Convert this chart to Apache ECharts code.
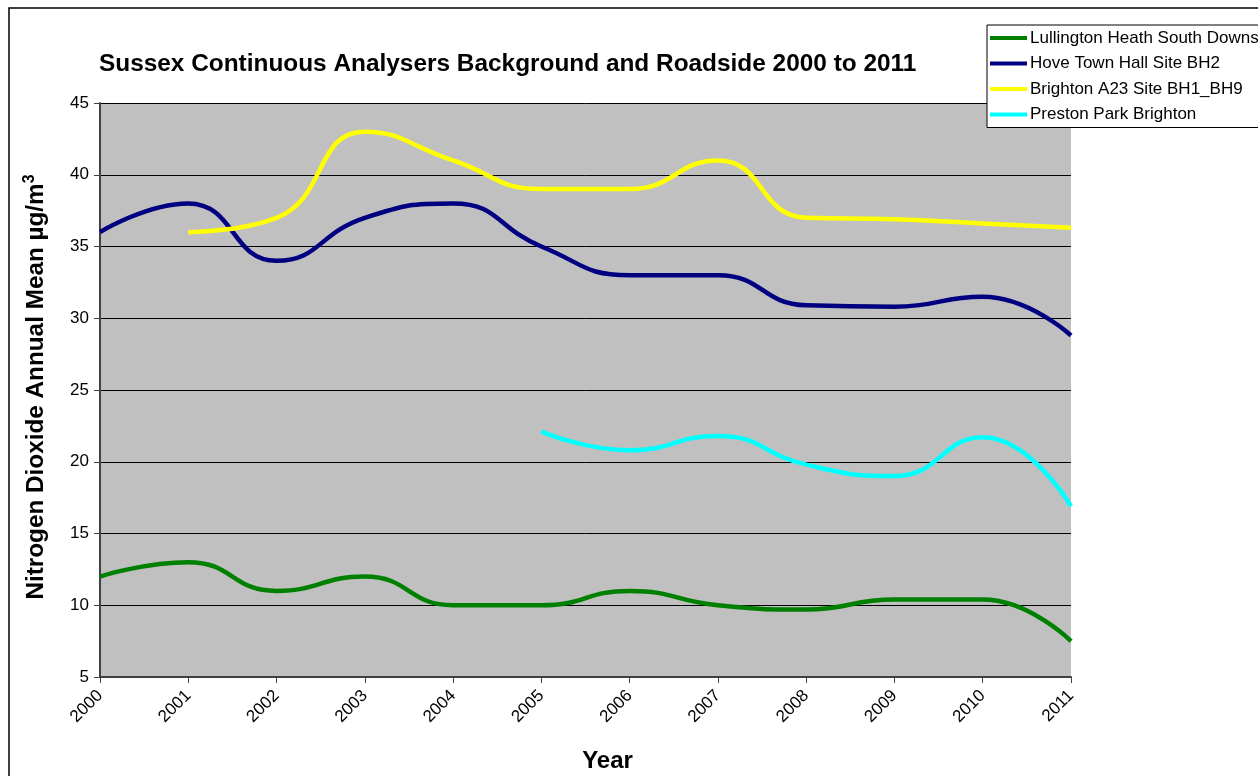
<!DOCTYPE html>
<html>
<head>
<meta charset="utf-8">
<script src="https://cdn.jsdelivr.net/npm/echarts@6/dist/echarts.min.js"></script>
<style>
  html, body { margin: 0; padding: 0; background: #fff; }
  #chart { width: 1258px; height: 776px; }
</style>
</head>
<body>
<div id="chart"></div>
<script>
// Annual mean NO2 at Sussex continuous analysers, 2000-2011
const years = ['2000','2001','2002','2003','2004','2005','2006','2007','2008','2009','2010','2011'];
const lullington = [12, 13, 11, 12, 10, 10, 11, 10, 9.7, 10.4, 10.4, 7.5];
const hove = [36, 38, 34, 37, 38, 35, 33, 33, 30.9, 30.8, 31.5, 28.8];
const brightonA23 = [null, 36, 37, 43, 41, 39, 39, 41, 37, 36.9, 36.6, 36.3];
const prestonPark = [null, null, null, null, null, 22.1, 20.8, 21.8, 19.8, 19.0, 21.7, 16.9];
const seriesNames = ['Lullington Heath South Downs', 'Hove Town Hall Site BH2', 'Brighton A23 Site BH1_BH9', 'Preston Park Brighton'];
const seriesColors = ['#008000', '#000080', '#ffff00', '#00ffff'];
const seriesData = [lullington, hove, brightonA23, prestonPark];

const chart = echarts.init(document.getElementById('chart'));
const font = 'Liberation Sans, Arial, sans-serif';

chart.setOption({
  animation: false,
  textStyle: { fontFamily: font },
  title: {
    text: 'Sussex Continuous Analysers Background and Roadside 2000 to 2011',
    left: 94, top: 47,
    textStyle: { fontSize: 24.4, fontWeight: 'bold', color: '#000', fontFamily: font }
  },
  legend: {
    orient: 'vertical',
    left: 987, top: 25,
    width: 320,
    backgroundColor: '#fff',
    borderColor: '#000', borderWidth: 1,
    padding: [3, 60, 3, 3],
    itemGap: 5.5,
    itemWidth: 37, itemHeight: 4,
    icon: 'rect',
    textStyle: { fontSize: 17, lineHeight: 20, color: '#000', padding: [0, 0, 0, -2], fontFamily: font },
    data: seriesNames
  },
  graphic: [{
    type: 'rect', silent: true, z: -1,
    shape: { x: 9, y: 8, width: 1400, height: 900 },
    style: { fill: 'none', stroke: '#000', lineWidth: 1.5 }
  }],
  grid: {
    left: 100, top: 103, width: 971, height: 574,
    outerBoundsMode: 'none',
    containLabel: false,
    show: true, backgroundColor: '#c0c0c0', borderWidth: 0
  },
  xAxis: {
    type: 'category', data: years, boundaryGap: false,
    name: 'Year', nameLocation: 'middle', nameGap: 72,
    nameTextStyle: { fontSize: 24, fontWeight: 'bold', color: '#000', fontFamily: font, padding: [0, 0, 0, 44] },
    axisLine: { lineStyle: { color: '#404040', width: 2 } },
    axisTick: { show: true, length: 6, alignWithLabel: true, lineStyle: { color: '#404040', width: 1 } },
    axisLabel: { rotate: 45, fontSize: 17, color: '#000', margin: 16, interval: 0 },
    splitLine: { show: false }
  },
  yAxis: {
    type: 'value', min: 5, max: 45, interval: 5,
    name: 'Nitrogen Dioxide Annual Mean µg/m{sup|3}',
    nameLocation: 'middle', nameGap: 50, nameRotate: 90,
    nameTextStyle: {
      fontSize: 24.3, fontWeight: 'bold', color: '#000', fontFamily: font, padding: [0, 0, 0, 6],
      rich: { sup: { fontSize: 16, fontWeight: 'bold', verticalAlign: 'top', padding: [0, 0, 12, 0], color: '#000' } }
    },
    axisLine: { show: true, lineStyle: { color: '#404040', width: 2 } },
    axisTick: { show: true, length: 6, lineStyle: { color: '#404040' } },
    axisLabel: { fontSize: 17, color: '#000', margin: 11 },
    splitLine: { lineStyle: { color: '#000', width: 1 } }
  },
  series: seriesNames.map((name, i) => ({
    name, type: 'line', data: seriesData[i],
    smooth: 0.5, showSymbol: false, symbol: 'none',
    connectNulls: false,
    lineStyle: { color: seriesColors[i], width: 4.5 },
    itemStyle: { color: seriesColors[i] }
  }))
});
</script>
</body>
</html>
